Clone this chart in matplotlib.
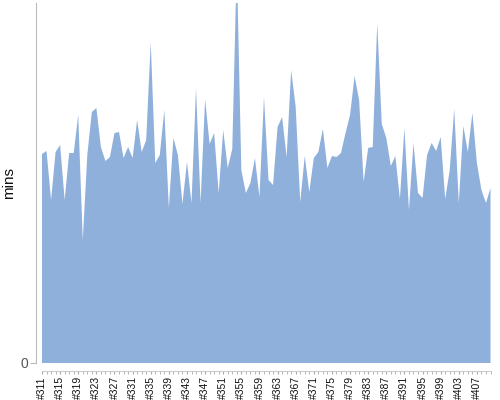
import matplotlib
matplotlib.use("Agg")
import matplotlib.pyplot as plt
import numpy as np

plt.rcParams["font.family"] = ["Liberation Sans", "DejaVu Sans"]

builds = [f"#{n}" for n in range(311, 411)]
# durations in minutes
mins = [
    20.9, 21.2, 16.3, 21.1, 21.8, 16.3, 21.0, 21.0, 24.8, 12.3,
    20.8, 25.1, 25.5, 21.6, 20.2, 20.6, 23.0, 23.1, 20.5, 21.6,
    20.5, 24.3, 21.1, 22.3, 32.1, 20.0, 20.8, 25.3, 15.5, 22.5,
    20.8, 15.9, 20.1, 16.0, 27.5, 16.0, 26.4, 21.9, 23.0, 17.0,
    23.3, 19.5, 21.4, 40.0, 19.3, 17.0, 18.0, 20.5, 16.6, 26.6,
    18.3, 17.8, 23.6, 24.6, 20.6, 29.3, 25.6, 16.1, 20.7, 17.1,
    20.5, 21.1, 23.4, 19.5, 20.7, 20.6, 21.0, 23.0, 24.8, 28.7,
    26.3, 18.1, 21.5, 21.6, 34.0, 23.9, 22.5, 19.7, 20.7, 16.4,
    23.5, 15.3, 22.0, 17.0, 16.5, 20.8, 22.0, 21.2, 22.6, 16.4,
    19.3, 25.4, 16.0, 23.7, 21.1, 25.0, 20.0, 17.3, 16.0, 17.5,
]

x = np.arange(len(mins))

fig = plt.figure(figsize=(5, 4), dpi=100)
ax = fig.add_axes([42 / 500, 37 / 400, 448.5 / 500, 360 / 400])
ax.fill_between(x, mins, 0, color="#8fb0da", linewidth=0)
ax.set_xlim(0, len(mins) - 1)
ax.set_ylim(0, 36)

for s in ["top", "right"]:
    ax.spines[s].set_visible(False)
ax.spines["left"].set_position(("outward", 4))
ax.spines["left"].set_color("#bbbbbb")
ax.spines["bottom"].set_position(("outward", 6))
ax.spines["bottom"].set_color("#cccccc")

ax.set_yticks([0])
ax.set_yticklabels(["0"], fontsize=10, color="#555555")
ax.tick_params(axis="y", length=4, color="#bbbbbb", pad=2)

ax.set_xticks(x, minor=True)
ax.set_xticks(x[::4])
ax.set_xticklabels(builds[::4], rotation=90, fontsize=7.5, color="#111111")
ax.tick_params(axis="x", which="both", length=2, color="#aaaaaa", pad=1.5)

ax.set_ylabel("mins", fontsize=11, color="#111111")
ax.yaxis.set_label_coords(-0.058, 0.5)

fig.savefig("out.png", dpi=100)
